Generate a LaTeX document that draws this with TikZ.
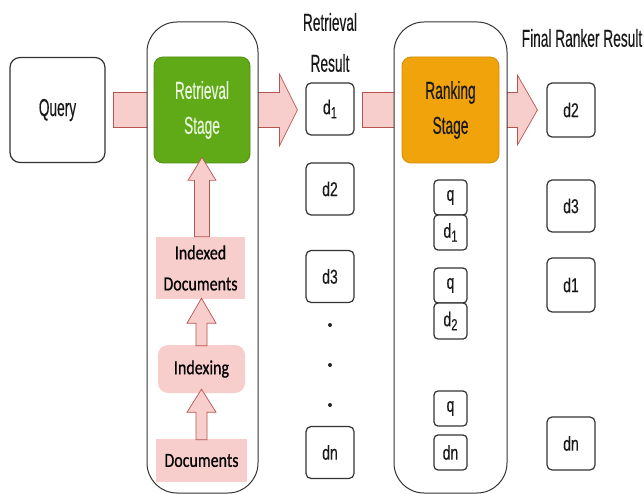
\documentclass[tikz,border=0pt]{standalone}
\usepackage{fontspec}
\setmainfont{Liberation Sans}[FakeStretch=0.56,FakeBold=0.3]
\newfontfamily\dfont{Liberation Sans}[FakeStretch=0.7,FakeBold=0.3]
\newfontfamily\idxfont{Carlito}[FakeStretch=0.8,FakeBold=0.6]
\usetikzlibrary{calc}
\definecolor{pinkfill}{HTML}{F8CECC}
\definecolor{pinkline}{HTML}{B85450}
\definecolor{grn}{HTML}{60A917}
\definecolor{grnline}{HTML}{4F8F12}
\definecolor{orng}{HTML}{F0A30A}
\definecolor{orngline}{HTML}{D18E08}
\definecolor{boxline}{HTML}{333333}
\definecolor{lighttext}{HTML}{E8F5DC}
\newcommand\rarrow[5]{%
  \draw[blockarrow] let \p1=(#1), \p2=(#2) in
    ({\x1},{\y1+#3}) -- ({\x2-#5},{\y1+#3}) -- ({\x2-#5},{\y1+#4}) -- ({\x2},{\y1})
    -- ({\x2-#5},{\y1-#4}) -- ({\x2-#5},{\y1-#3}) -- ({\x1},{\y1-#3}) -- cycle;}
\newcommand\uarrow[5]{%
  \draw[blockarrow] let \p1=(#1), \p2=(#2) in
    ({\x1-#3},{\y1}) -- ({\x1-#3},{\y2-#5}) -- ({\x1-#4},{\y2-#5}) -- ({\x1},{\y2})
    -- ({\x1+#4},{\y2-#5}) -- ({\x1+#3},{\y2-#5}) -- ({\x1+#3},{\y1}) -- cycle;}
\newcommand\sub[1]{\raisebox{-4pt}{\fontsize{16}{16}\selectfont #1}}
\tikzset{
  txt/.style={font=\fontsize{24.5}{35}\selectfont, text=black!90, align=center, inner sep=0pt},
  dtxt/.style={font=\dfont\fontsize{20}{20}\selectfont, text=black!90, align=center, inner sep=0pt},
  dbox/.style={dtxt, draw=boxline, line width=1.2pt, rounded corners=5pt, fill=white,
    minimum width=48pt, minimum height=52pt},
  pbox/.style={dtxt, draw=boxline, line width=1.2pt, rounded corners=4pt, fill=white,
    minimum width=33pt, minimum height=35pt},
  container/.style={draw=boxline, line width=1pt, rounded corners=30pt, fill=white},
  stagebox/.style={txt, rounded corners=9pt, line width=0.8pt, minimum width=96pt, minimum height=106pt},
  blockarrow/.style={fill=pinkfill, draw=pinkline, line width=0.7pt, line join=miter},
  idxbox/.style={font=\idxfont\fontsize{20}{31}\selectfont, text=black, align=center, inner sep=0pt, fill=pinkfill},
  dot/.style={circle, fill=black!85, inner sep=0pt, minimum size=4pt}
}
\begin{document}
\begin{tikzpicture}[x=1pt,y=-1pt]
\useasboundingbox (0,0) rectangle (644,494);
% nodes that the arrows run between (drawn later on top)
\node[txt, draw=boxline, line width=1.2pt, rounded corners=10pt, minimum width=95pt, minimum height=105pt] (query) at (57.5,110) {Query};
\node[dbox] (r1) at (330,109) {d\sub{1}};
\node[dbox] (r2) at (330,189) {d2};
\node[dbox] (r3) at (330,276.5) {d3};
\node[dbox] (rn) at (330,452.5) {dn};
\node[dbox, minimum height=54pt] (f1) at (571,110) {d2};
\node[dbox] (f2) at (571,206) {d3};
\node[dbox, minimum height=54pt] (f3) at (571,285) {d1};
\node[dbox, minimum height=53pt] (f4) at (571,443.5) {dn};
\coordinate (retc) at (202,110);
\coordinate (rankc) at (450.5,110);
% horizontal block arrows (hidden by containers where they overlap)
\rarrow{$(query.east)+(8,0)$}{$(retc)+(20,0)$}{17.5pt}{17.5pt}{0pt}
\rarrow{retc}{$(r1.west |- retc)+(-8,0)$}{17.5pt}{36pt}{18pt}
\rarrow{$(r1.east |- retc)+(8,0)$}{$(rankc)+(20,0)$}{17.5pt}{17.5pt}{0pt}
\rarrow{rankc}{$(f1.west |- rankc)+(-9,0)$}{17.5pt}{35pt}{20pt}
% containers
\node[container, minimum width=111pt, minimum height=471pt] (cL) at (202.5,257.5) {};
\node[container, minimum width=113pt, minimum height=471pt] (cR) at (450.5,257.5) {};
% stages
\node[stagebox, fill=grn, draw=grnline, text=lighttext] (ret) at (retc) {Retrieval\\Stage};
\node[stagebox, fill=orng, draw=orngline, minimum width=97pt] (rank) at (rankc) {Ranking\\Stage};
% indexing column
\node[idxbox, minimum width=89pt, minimum height=62pt] (idx) at (200.5,268) {Indexed\\Documents};
\node[idxbox, rounded corners=10pt, minimum width=87pt, minimum height=48pt] (ixg) at (201.5,369) {Indexing};
\node[idxbox, minimum width=91pt, minimum height=43pt] (docs) at (201.5,460.5) {Documents};
\uarrow{$(idx.north)+(1.5,0)$}{$(ret.south)+(0,-6)$}{7.5pt}{14pt}{23pt}
\uarrow{$(docs.north |- ixg.north)+(0,1)$}{$(idx.south)+(1,-1)$}{5.5pt}{14.5pt}{25pt}
\uarrow{$(docs.north)+(0,1)$}{$(ixg.south)+(0,-4)$}{5.5pt}{14.5pt}{23pt}
% labels
\node[txt] (rlab1) at (330,22) {Retrieval};
\node[txt] (rlab2) at (330,63) {Result};
\node[txt] (flab) at (582,38) {Final Ranker Result};
% dots
\node[dot] (dt1) at (330,325) {};
\node[dot] (dt2) at (330,365) {};
\node[dot] (dt3) at (330,405) {};
% q/d pairs
\node[pbox] (q1) at (450.5,197.5) {q};
\node[pbox] (p1) at (450.5,232.5) {d\sub{1}};
\node[pbox] (q2) at (450.5,285.5) {q};
\node[pbox, minimum height=36pt] (p2) at (450.5,321) {d\sub{2}};
\node[pbox] (q3) at (450.5,408.5) {q};
\node[pbox] (p3) at (450.5,452.5) {dn};
\end{tikzpicture}
\end{document}
